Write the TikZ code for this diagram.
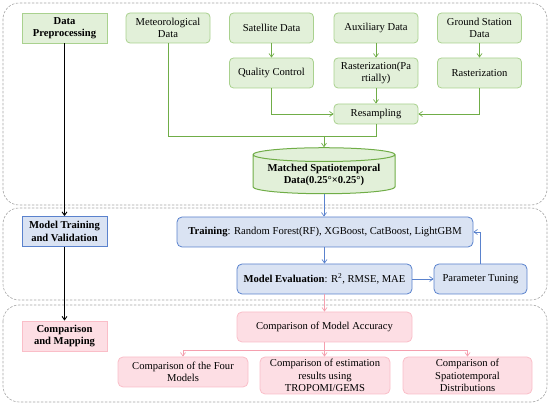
\documentclass[tikz,border=0pt]{standalone}
\usepackage{fontspec}
\setmainfont{Liberation Serif}
\usepackage{tikz}
\usetikzlibrary{calc,positioning,shapes.geometric,arrows.meta}
\definecolor{prepFill}{RGB}{226,240,217}
\definecolor{prepLine}{RGB}{169,209,142}
\definecolor{prepArrow}{RGB}{112,173,71}
\definecolor{trainFill}{RGB}{218,227,243}
\definecolor{trainLine}{RGB}{90,130,205}
\definecolor{mapFill}{RGB}{253,222,228}
\definecolor{mapLine}{RGB}{250,190,200}
\definecolor{mapArrow}{RGB}{245,160,175}
\definecolor{panelGray}{RGB}{165,165,165}

\begin{document}
\begin{tikzpicture}[x=1pt, y=-1pt, >={Straight Barb[length=3.5pt,width=5pt]},
  every node/.style={font=\fontsize{10.6}{12.5}\selectfont, align=center, inner sep=1pt},
  panel/.style={draw=panelGray, dashed, dash pattern=on 2.5pt off 1.5pt, rounded corners=16pt, line width=0.6pt},
  stage/.style={rectangle, line width=0.8pt, minimum width=85pt, minimum height=30pt, font=\fontsize{10.6}{12.5}\selectfont\bfseries},
  prep/.style={draw=prepLine, fill=prepFill, rectangle, rounded corners=4pt, line width=0.8pt, minimum width=84pt, minimum height=30pt},
  train/.style={draw=trainLine, fill=trainFill, rectangle, rounded corners=5pt, line width=0.8pt, minimum height=30pt},
  map/.style={draw=mapLine, fill=mapFill, rectangle, rounded corners=5pt, line width=0.8pt, minimum height=30pt},
  prepflow/.style={draw=prepArrow, line width=0.7pt},
  trainflow/.style={draw=trainLine, line width=0.7pt},
  mapflow/.style={draw=mapArrow, line width=0.7pt},
  stageflow/.style={draw=black, line width=0.9pt, ->}]
  \useasboundingbox (0,0) rectangle (550,406);

  % dashed panels
  \draw[panel] (3,3) rectangle (547,205);
  \draw[panel] (3,208) rectangle (547,300);
  \draw[panel] (3,305) rectangle (547,402);

  % stage labels
  \node[stage, draw=prepLine, fill=prepFill] (dp) at (64.5,28) {Data\\Preprocessing};
  \node[stage, draw=trainLine, fill=trainFill] (mtv) at (64.5,231.5) {Model Training\\and Validation};
  \node[stage, draw=mapLine, fill=mapFill] (cm) at (64.5,336) {Comparison\\and Mapping};
  \draw[stageflow] (dp) -- (mtv);
  \draw[stageflow] (mtv) -- (cm);

  % data preprocessing
  \node[prep] (met) at (168,28) {Meteorological\\Data};
  \node[prep] (sat) at (271.5,28) {Satellite Data};
  \node[prep] (aux) at (376,28) {Auxiliary Data};
  \node[prep] (gsd) at (479.5,28) {Ground Station\\Data};
  \node[prep] (qc) at (271.5,73) {Quality Control};
  \node[prep] (rasp) at (376,73) {Rasterization(Pa\\rtially)};
  \node[prep] (ras) at (479.5,73) {Rasterization};
  \node[prep, minimum height=20pt] (resamp) at (376,114) {Resampling};
  \node[cylinder, shape border rotate=90, aspect=0.12, draw=prepArrow, fill=prepFill, line width=1pt,
    minimum width=142pt, minimum height=46pt, font=\fontsize{10.6}{12.5}\selectfont\bfseries] (matched) at (324,175)
    {Matched Spatiotemporal\\Data(0.25\textdegree{}×0.25\textdegree)};
  \coordinate (merge) at (324,136);

  \draw[prepflow, ->] (sat) -- (qc);
  \draw[prepflow, ->] (aux) -- (rasp);
  \draw[prepflow, ->] (gsd) -- (ras);
  \draw[prepflow, ->] (rasp) -- (resamp);
  \draw[prepflow, ->] (qc.south) |- (resamp.west);
  \draw[prepflow, ->] (ras.south) |- (resamp.east);
  \draw[prepflow] (met.south) |- (merge);
  \draw[prepflow] (resamp.south) |- (merge);
  \draw[prepflow, ->] (merge) -- (matched.top);

  % model training and validation
  \node[train, minimum width=296pt] (training) at (325,232) {\textbf{Training}: Random Forest(RF), XGBoost, CatBoost, LightGBM};
  \node[train, minimum width=175pt] (eval) at (324.5,279) {\textbf{Model Evaluation}: R\textsuperscript{2}, RMSE, MAE};
  \node[train, minimum width=93pt] (tuning) at (480.5,279) {Parameter Tuning};

  \draw[trainflow, ->] (matched.bottom) -- (training.north -| matched.bottom);
  \draw[trainflow, ->] (training.south -| eval.north) -- (eval.north);
  \draw[trainflow, ->] (eval) -- (tuning);
  \draw[trainflow, ->] (tuning.north) |- (training.east);

  % comparison and mapping
  \node[map, minimum width=175pt] (acc) at (324.5,327) {Comparison of Model Accuracy};
  \node[map, minimum width=130pt] (four) at (183,372) {Comparison of the Four\\Models};
  \node[map, minimum width=130pt, minimum height=37pt] (tropomi) at (325,375.5) {Comparison of estimation\\results using\\TROPOMI/GEMS};
  \node[map, minimum width=129pt, minimum height=37pt] (spatial) at (467.5,375.5) {Comparison of\\Spatiotemporal\\Distributions};
  \coordinate (fork) at (324.5,350);

  \draw[mapflow, ->] (eval) -- (acc);
  \draw[mapflow] (acc) -- (fork);
  \draw[mapflow, ->] (fork) -| (four.north);
  \draw[mapflow, ->] (fork) -- (tropomi.north -| fork);
  \draw[mapflow, ->] (fork) -| (spatial.north);
\end{tikzpicture}
\end{document}
